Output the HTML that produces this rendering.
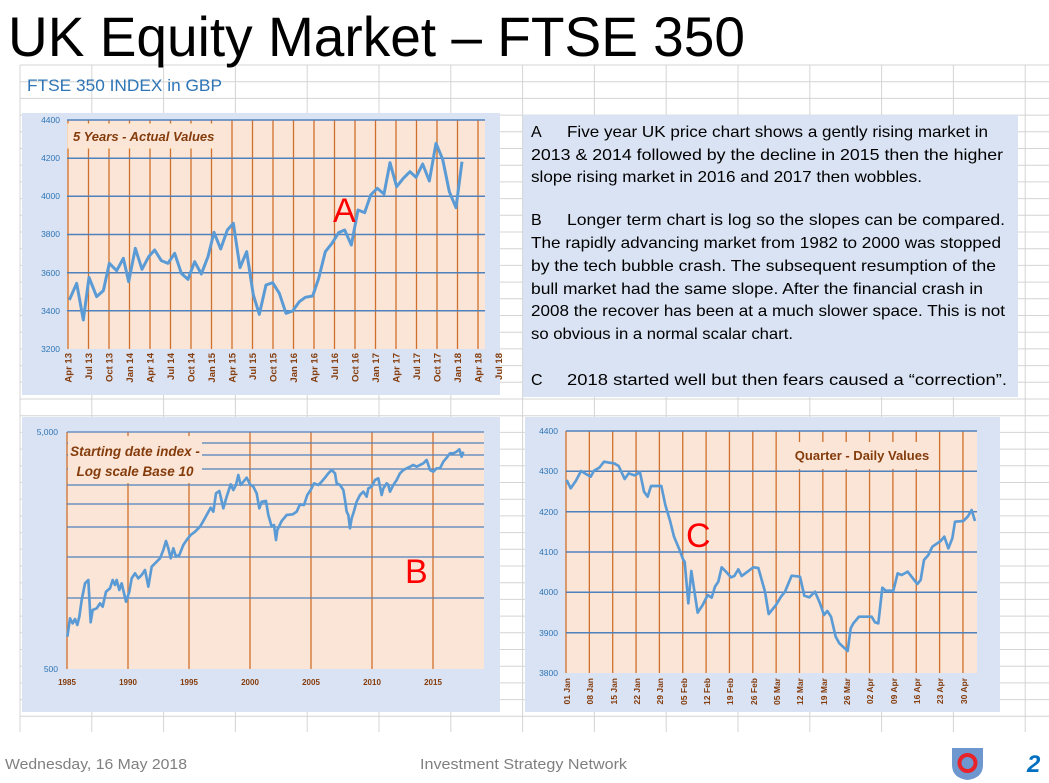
<!DOCTYPE html>
<html><head><meta charset="utf-8"><style>
html,body{margin:0;padding:0;background:#fff;}
svg{display:block;font-family:"Liberation Sans",sans-serif;}
</style></head><body>
<svg id="s" width="1049" height="783" viewBox="0 0 1049 783" xmlns="http://www.w3.org/2000/svg">
<rect width="1049" height="783" fill="#fff"/>
<g id="sheet" stroke="#d4d4d4" stroke-width="1"></g>
<text x="8" y="56" font-size="56" fill="#000" textLength="737" lengthAdjust="spacingAndGlyphs">UK Equity Market – FTSE 350</text>
<text x="27" y="91" font-size="17" fill="#2e75b6" textLength="195" lengthAdjust="spacingAndGlyphs">FTSE 350 INDEX  in  GBP</text>

<!-- Chart A -->
<rect x="22" y="113" width="478" height="282" fill="#dae3f3"/>
<rect x="67" y="120" width="418" height="229" fill="#fbe5d6"/>
<g id="gA"></g>
<rect x="68" y="124" width="144" height="24" fill="#fbe5d6" stroke="#fde9c9"/>
<text x="73" y="141" font-size="13" font-style="italic" font-weight="bold" fill="#843c0c">5 Years - Actual Values</text>
<g font-size="8.5" fill="#2e75b6" text-anchor="end">
<text x="60" y="123">4400</text><text x="60" y="161">4200</text><text x="60" y="199">4000</text><text x="60" y="237">3800</text><text x="60" y="276">3600</text><text x="60" y="314">3400</text><text x="60" y="352">3200</text>
</g>
<g font-size="9.5" font-weight="bold" fill="#843c0c" text-anchor="end" id="lblA">
<text transform="translate(71.5,353) rotate(-90)">Apr 13</text>
<text transform="translate(92,353) rotate(-90)">Jul 13</text>
<text transform="translate(112.5,353) rotate(-90)">Oct 13</text>
<text transform="translate(133,353) rotate(-90)">Jan 14</text>
<text transform="translate(153.5,353) rotate(-90)">Apr 14</text>
<text transform="translate(174,353) rotate(-90)">Jul 14</text>
<text transform="translate(194.5,353) rotate(-90)">Oct 14</text>
<text transform="translate(215,353) rotate(-90)">Jan 15</text>
<text transform="translate(235.5,353) rotate(-90)">Apr 15</text>
<text transform="translate(256,353) rotate(-90)">Jul 15</text>
<text transform="translate(276.5,353) rotate(-90)">Oct 15</text>
<text transform="translate(297,353) rotate(-90)">Jan 16</text>
<text transform="translate(317.5,353) rotate(-90)">Apr 16</text>
<text transform="translate(338,353) rotate(-90)">Jul 16</text>
<text transform="translate(358.5,353) rotate(-90)">Oct 16</text>
<text transform="translate(379,353) rotate(-90)">Jan 17</text>
<text transform="translate(399.5,353) rotate(-90)">Apr 17</text>
<text transform="translate(420,353) rotate(-90)">Jul 17</text>
<text transform="translate(440.5,353) rotate(-90)">Oct 17</text>
<text transform="translate(461,353) rotate(-90)">Jan 18</text>
<text transform="translate(481.5,353) rotate(-90)">Apr 18</text>
<text transform="translate(502,353) rotate(-90)">Jul 18</text>
</g>
<g transform="translate(20,100) scale(0.33333)">
<polyline fill="none" stroke="#5b9bd5" stroke-width="9" stroke-linejoin="round" points="148,600 170,550 190,660 207,532 230,590 250,572 268,490 290,512 310,475 326,545 346,445 366,508 386,470 404,450 424,482 444,490 464,460 484,520 504,538 524,485 544,522 564,470 582,397 602,447 622,390 640,370 660,503 680,455 700,585 718,643 738,555 758,548 778,580 798,640 818,633 838,605 856,592 878,588 896,535 916,455 936,430 956,398 974,390 994,435 1014,330 1034,338 1052,285 1072,265 1092,282 1110,188 1130,260 1150,235 1170,215 1188,232 1208,192 1228,243 1248,130 1268,178 1288,275 1308,323 1326,185"/>
</g>
<text x="333" y="222" font-size="34" fill="#ff0000">A</text>

<!-- Text box -->
<rect x="523" y="115" width="495" height="282" fill="#dae3f3"/>
<g font-size="16" fill="#000">
<text x="531" y="137">A</text><text x="567" y="137" textLength="421" lengthAdjust="spacingAndGlyphs">Five year UK price chart shows a gently rising market in</text>
<text x="531" y="160" textLength="472" lengthAdjust="spacingAndGlyphs">2013 &amp; 2014 followed by the decline in 2015 then the higher</text>
<text x="531" y="182" textLength="391" lengthAdjust="spacingAndGlyphs">slope rising market in 2016 and 2017 then wobbles.</text>
<text x="531" y="225">B</text><text x="567" y="225" textLength="438" lengthAdjust="spacingAndGlyphs">Longer term chart is log so the slopes can be compared.</text>
<text x="531" y="248" textLength="470" lengthAdjust="spacingAndGlyphs">The rapidly advancing market from 1982 to 2000 was stopped</text>
<text x="531" y="271" textLength="465" lengthAdjust="spacingAndGlyphs">by the tech bubble crash.  The subsequent resumption of the</text>
<text x="531" y="294" textLength="452" lengthAdjust="spacingAndGlyphs">bull market had the same slope.  After the financial crash in</text>
<text x="531" y="316" textLength="474" lengthAdjust="spacingAndGlyphs">2008 the recover has been at a much slower space.  This is not</text>
<text x="531" y="339" textLength="262" lengthAdjust="spacingAndGlyphs">so obvious in a normal scalar chart.</text>
<text x="531" y="385">C</text><text x="567" y="385" textLength="440" lengthAdjust="spacingAndGlyphs">2018 started well but then fears caused a “correction”.</text>
</g>

<!-- Chart B -->
<rect x="22" y="417" width="478" height="295" fill="#dae3f3"/>
<rect x="67" y="432" width="417" height="237" fill="#fbe5d6"/>
<g id="gB"></g>
<rect x="68" y="436" width="134" height="47" fill="#fbe5d6"/>
<text x="135" y="456" font-size="13.5" font-style="italic" font-weight="bold" fill="#843c0c" text-anchor="middle">Starting date index -</text>
<text x="135" y="476" font-size="13.5" font-style="italic" font-weight="bold" fill="#843c0c" text-anchor="middle">Log scale Base 10</text>
<g font-size="8.5" fill="#2e75b6" text-anchor="end"><text x="58" y="435">5,000</text><text x="58" y="672">500</text></g>
<g font-size="8" font-weight="bold" fill="#843c0c" text-anchor="middle">
<text x="67" y="685">1985</text><text x="128" y="685">1990</text><text x="189" y="685">1995</text><text x="250" y="685">2000</text><text x="311" y="685">2005</text><text x="372" y="685">2010</text><text x="433" y="685">2015</text>
</g>
<g transform="translate(20,415) scale(0.33333)">
<polyline fill="none" stroke="#5b9bd5" stroke-width="8" stroke-linejoin="round" points="142,665 150,610 158,625 165,612 172,630 178,605 185,555 195,505 205,495 212,622 218,585 230,580 240,565 248,575 258,530 270,520 278,495 285,510 290,495 298,525 305,505 318,560 328,530 335,490 345,475 355,490 365,480 375,465 385,515 395,455 410,440 420,430 430,405 438,378 445,400 452,430 460,400 468,425 478,420 490,390 500,375 512,360 525,350 540,335 550,318 560,300 572,278 580,290 588,235 598,228 610,280 620,245 632,208 640,225 648,210 655,180 662,210 672,198 680,188 690,208 700,215 710,235 718,280 725,260 738,258 745,300 755,335 762,330 768,375 772,345 785,318 800,300 818,298 830,290 840,268 852,270 862,240 872,225 882,205 895,210 905,200 915,188 925,175 935,165 945,175 950,205 960,210 970,225 975,255 980,290 985,300 990,340 995,310 1000,295 1010,260 1020,240 1030,230 1040,245 1045,220 1055,215 1065,195 1075,190 1085,240 1090,220 1100,205 1105,210 1110,230 1120,210 1130,195 1140,175 1150,165 1160,160 1170,155 1180,150 1190,155 1200,150 1210,145 1220,135 1230,165 1240,170 1250,160 1260,160 1270,140 1280,128 1290,115 1300,115 1310,110 1318,103 1325,125 1330,110"/>
</g>
<text x="405" y="583" font-size="34" fill="#ff0000">B</text>

<!-- Chart C -->
<rect x="525" y="417" width="475" height="295" fill="#dae3f3"/>
<rect x="566" y="431" width="411" height="242" fill="#fbe5d6"/>
<g id="gC"></g>
<rect x="791" y="442" width="143" height="27" fill="#fbe5d6"/>
<text x="862" y="460" font-size="13" font-weight="bold" fill="#843c0c" text-anchor="middle">Quarter  - Daily Values</text>
<g font-size="8.5" fill="#2e75b6" text-anchor="end">
<text x="558" y="434">4400</text><text x="558" y="474">4300</text><text x="558" y="515">4200</text><text x="558" y="555">4100</text><text x="558" y="595">4000</text><text x="558" y="636">3900</text><text x="558" y="676">3800</text>
</g>
<g font-size="8.5" font-weight="bold" fill="#843c0c" text-anchor="end">
<text transform="translate(570,678) rotate(-90)">01 Jan</text>
<text transform="translate(593,678) rotate(-90)">08 Jan</text>
<text transform="translate(617,678) rotate(-90)">15 Jan</text>
<text transform="translate(640,678) rotate(-90)">22 Jan</text>
<text transform="translate(663,678) rotate(-90)">29 Jan</text>
<text transform="translate(687,678) rotate(-90)">05 Feb</text>
<text transform="translate(710,678) rotate(-90)">12 Feb</text>
<text transform="translate(733,678) rotate(-90)">19 Feb</text>
<text transform="translate(757,678) rotate(-90)">26 Feb</text>
<text transform="translate(780,678) rotate(-90)">05 Mar</text>
<text transform="translate(803,678) rotate(-90)">12 Mar</text>
<text transform="translate(827,678) rotate(-90)">19 Mar</text>
<text transform="translate(850,678) rotate(-90)">26 Mar</text>
<text transform="translate(873,678) rotate(-90)">02 Apr</text>
<text transform="translate(897,678) rotate(-90)">09 Apr</text>
<text transform="translate(920,678) rotate(-90)">16 Apr</text>
<text transform="translate(943,678) rotate(-90)">23 Apr</text>
<text transform="translate(967,678) rotate(-90)">30 Apr</text>
</g>
<g transform="translate(520,410) scale(0.33333)">
<polyline fill="none" stroke="#5b9bd5" stroke-width="8" stroke-linejoin="round" points="140,210 152,235 168,212 183,183 198,192 212,200 222,182 238,173 252,155 268,158 282,160 296,168 314,207 326,190 344,196 360,187 372,245 383,260 393,228 424,228 436,285 450,332 462,380 478,418 490,450 494,455 505,580 514,483 533,608 548,585 563,555 575,563 585,530 595,515 605,472 618,485 633,502 643,498 655,478 665,498 680,487 700,472 715,474 735,545 746,612 768,585 783,560 795,545 815,497 840,500 853,557 868,562 885,545 900,580 912,615 922,603 933,620 947,680 958,700 983,723 992,655 1000,640 1017,620 1055,620 1065,637 1075,640 1087,533 1097,542 1120,542 1133,490 1145,495 1163,485 1192,522 1202,510 1212,450 1225,435 1237,410 1262,393 1273,380 1285,415 1297,385 1305,335 1330,333 1343,320 1355,300 1365,333"/>
</g>
<text x="686" y="547" font-size="34" fill="#ff0000">C</text>

<!-- Footer -->
<text x="5" y="769" font-size="15" fill="#7f7f7f" textLength="182" lengthAdjust="spacingAndGlyphs">Wednesday, 16 May 2018</text>
<text x="420" y="769" font-size="15" fill="#7f7f7f" textLength="207" lengthAdjust="spacingAndGlyphs">Investment Strategy Network</text>
<path d="M952,748 L983,748 L983,765 Q983,778 967.5,780 Q952,778 952,765 Z" fill="#6f97cf"/>
<circle cx="967.5" cy="763" r="8" fill="none" stroke="#e8232a" stroke-width="4"/>
<text x="1027" y="772" font-size="24" font-weight="bold" font-style="italic" fill="#0070c0">2</text>
</svg>
<script>
(function(){
var NS="http://www.w3.org/2000/svg";
function L(g,x1,y1,x2,y2,c,w){var l=document.createElementNS(NS,"line");l.setAttribute("x1",x1);l.setAttribute("y1",y1);l.setAttribute("x2",x2);l.setAttribute("y2",y2);l.setAttribute("stroke",c);l.setAttribute("stroke-width",w);g.appendChild(l);}
var s=document.getElementById("sheet");
for(var y=65;y<=732;y+=16.7)L(s,20,y,1049,y,"#d4d4d4",1);
for(var x=20;x<=1030;x+=71.8)L(s,x,65,x,732,"#d4d4d4",1);
var a=document.getElementById("gA");
for(var i=0;i<=20;i++){var x=68+20.5*i;L(a,x,120,x,349,"#d0702c",1.3);}
[120,158.2,196.3,234.5,272.7,310.8].forEach(function(y){L(a,67,y,485,y,"#4f81bd",1.5);});
var b=document.getElementById("gB");
for(var i=0;i<=6;i++){var x=67+61*i;L(b,x,432,x,669,"#d0702c",1.3);}
[432,443,455,469,485,504,527,557,598].forEach(function(y){L(b,67,y,484,y,"#4f81bd",1.3);});
var c=document.getElementById("gC");
for(var i=0;i<=17;i++){var x=566+23.35*i;L(c,x,431,x,673,"#d0702c",1.3);}
[431,471.3,511.7,552,592.3,632.7].forEach(function(y){L(c,566,y,977,y,"#4f81bd",1.5);});
})();
</script>
</body></html>
